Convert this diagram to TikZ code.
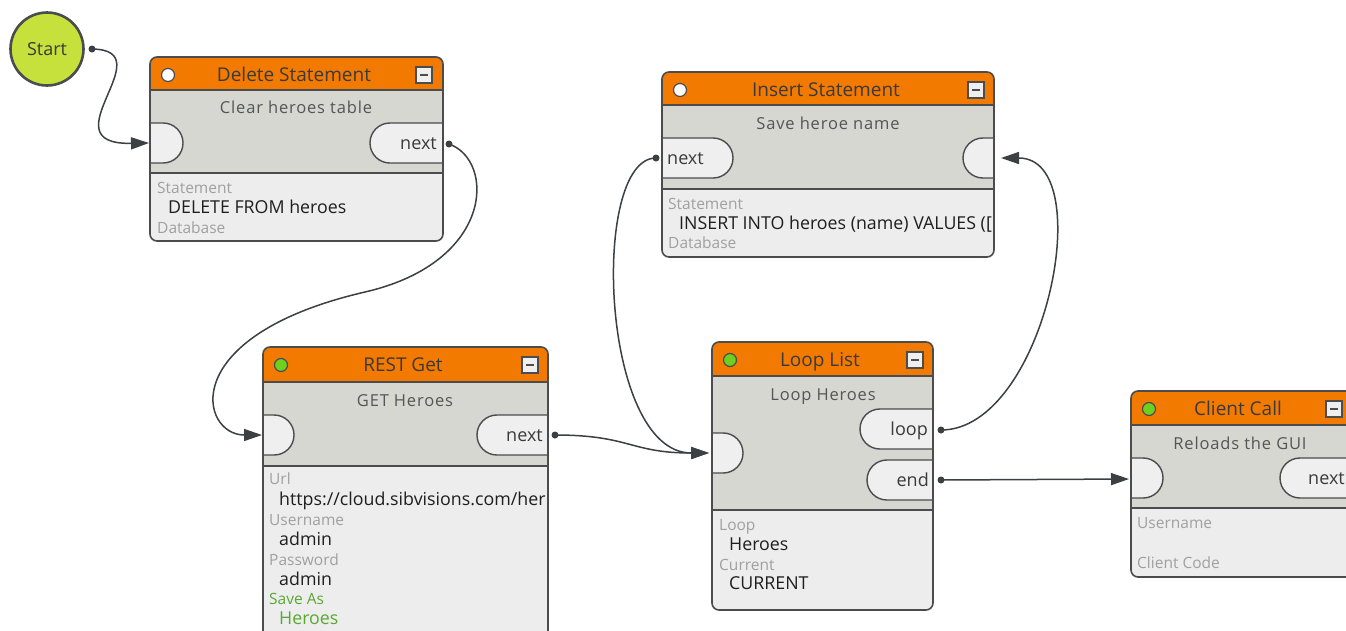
\documentclass[tikz,border=0pt]{standalone}
\usepackage{fontspec}
\setmainfont{Open Sans}
\usetikzlibrary{arrows.meta}
\definecolor{cHdr}{HTML}{F27A00}
\definecolor{cMid}{HTML}{D5D7D0}
\definecolor{cLow}{HTML}{EDEDED}
\definecolor{cPort}{HTML}{EFEFEF}
\definecolor{cFrame}{HTML}{4A4C4E}
\definecolor{cWire}{HTML}{3B4044}
\definecolor{cTtl}{HTML}{3A3A3A}
\definecolor{cSub}{HTML}{555555}
\definecolor{cVal}{HTML}{1E1E1E}
\definecolor{cLbl}{HTML}{A0A0A0}
\definecolor{cSave}{HTML}{5AA832}
\definecolor{cStart}{HTML}{C6E03C}
\definecolor{cOk}{HTML}{6FD11E}
\tikzset{
  x=1pt, y=-1pt,
  conn/.style={draw=cWire, line width=1.5pt, -{Triangle[length=18pt,width=12pt]}},
  portst/.style={fill=cPort, draw=cFrame, line width=1.4pt, rounded corners=19.9pt},
  ttl/.style={font=\fontsize{19}{21}\selectfont, text=cTtl, inner sep=0pt, anchor=center, text height=13.5pt, text depth=0pt},
  subt/.style={font=\fontsize{16.5}{18}\selectfont\addfontfeature{LetterSpace=5}, text=cSub, inner sep=0pt, anchor=center, text height=12pt, text depth=0pt},
  lbl/.style={font=\fontsize{15.5}{17}\selectfont, text=cLbl, inner sep=0pt, anchor=west, text height=11pt, text depth=0pt},
  val/.style={font=\fontsize{17.8}{19}\selectfont, text=cVal, inner sep=0pt, anchor=west, text height=12.5pt, text depth=0pt},
  porttxt/.style={font=\fontsize{18}{20}\selectfont, text=cTtl, inner sep=0pt, text height=9.5pt, text depth=0pt},
  dotst/.style={fill=cWire},
}
% background of a flow node: x1 y1 x2 y2 ytitle ysep ; #7 = port drawing code
\newcommand\flowbg[7]{%
  \begin{scope}
    \clip[rounded corners=7pt] (#1,#2) rectangle (#3,#4);
    \fill[cLow] (#1,#2) rectangle (#3,#4);
    \fill[cHdr] (#1,#2) rectangle (#3,#5);
    \fill[cMid] (#1,#5) rectangle (#3,#6);
    #7
    \draw[cFrame,line width=1.3pt] (#1,#5) -- (#3,#5);
    \draw[cFrame,line width=1.8pt] (#1,#6) -- (#3,#6);
  \end{scope}
  \draw[cFrame,line width=1.6pt,rounded corners=7pt] (#1,#2) rectangle (#3,#4);}
\newcommand\hdrdot[3]{\draw[cFrame,fill=#3,line width=1.2pt] (#1,#2) circle (6.5pt);}
\newcommand\minusbtn[2]{%
  \draw[cFrame,fill=cPort,line width=1.3pt] (#1-8,#2-8) rectangle (#1+8,#2+8);
  \draw[cFrame,line width=1.4pt] (#1-4,#2) -- (#1+4,#2);}
\begin{document}
\begin{tikzpicture}
\useasboundingbox (0,0) rectangle (1346,630);
\clip (0,0) rectangle (1346,630);
\fill[white] (0,0) rectangle (1346,630);

% ---------- Start
\node[circle, fill=cStart, draw=cFrame, line width=2.6pt, minimum size=73pt, inner sep=0pt,
      font=\fontsize{18}{20}\selectfont, text=cTtl] (start) at (47,49) {Start};

% ---------- Delete Statement
\flowbg{150}{57}{443}{241}{90}{173}{%
  \draw[portst] (120,123) rectangle (183,163);
  \draw[portst] (370,123) rectangle (480,163);}
\hdrdot{168}{75}{white}
\minusbtn{424}{75}
\node[ttl] (del-title) at (294,75) {Delete Statement};
\node[subt] (del-sub) at (296,107) {Clear heroes table};
\node[porttxt, anchor=east] (del-next) at (437,144.5) {next};
\node[lbl] (del-l1) at (157,188) {Statement};
\node[val] (del-v1) at (168,207) {DELETE FROM heroes};
\node[lbl] (del-l2) at (157,228) {Database};

% ---------- Insert Statement
\flowbg{662}{72}{994}{257}{105}{189}{%
  \draw[portst] (630,138) rectangle (733,178);
  \draw[portst] (963,138) rectangle (1030,178);}
\hdrdot{680}{90}{white}
\minusbtn{976}{90}
\node[ttl] (ins-title) at (826,90) {Insert Statement};
\node[subt] (ins-sub) at (828,123) {Save heroe name};
\node[porttxt, anchor=west] (ins-next) at (667,159.5) {next};
\node[lbl] (ins-l1) at (668,204) {Statement};
\begin{scope}
  \clip (662,150) rectangle (993,260);
  \node[val] (ins-v1) at (679,223) {INSERT INTO heroes (name) VALUES ([};
\end{scope}
\node[lbl] (ins-l2) at (668,243) {Database};

% ---------- REST Get
\flowbg{263}{347}{548}{660}{382}{466}{%
  \draw[portst] (230,415) rectangle (294,455);
  \draw[portst] (477,415) rectangle (580,455);}
\hdrdot{281}{365}{cOk}
\minusbtn{530}{365}
\node[ttl] (rest-title) at (403,365) {REST Get};
\node[subt] (rest-sub) at (405,400) {GET Heroes};
\node[porttxt, anchor=east] (rest-next) at (543,436.5) {next};
\node[lbl] (rest-l1) at (269,479) {Url};
\begin{scope}
  \clip (263,460) rectangle (547,520);
  \node[val] (rest-v1) at (279,499) {https://cloud.sibvisions.com/her};
\end{scope}
\node[lbl] (rest-l2) at (269,520) {Username};
\node[val] (rest-v2) at (279,539) {admin};
\node[lbl] (rest-l3) at (269,560) {Password};
\node[val] (rest-v3) at (279,579) {admin};
\node[lbl, text=cSave] (rest-l4) at (269,599) {Save As};
\node[val, text=cSave] (rest-v4) at (279,618) {Heroes};

% ---------- Loop List
\flowbg{712}{342}{933}{610}{376}{510}{%
  \draw[portst] (680,433) rectangle (743,473);
  \draw[portst] (860,409) rectangle (970,449);
  \draw[portst] (867,460) rectangle (970,500);}
\hdrdot{730}{360}{cOk}
\minusbtn{915}{360}
\node[ttl] (loop-title) at (820,360) {Loop List};
\node[subt] (loop-sub) at (823,394) {Loop Heroes};
\node[porttxt, anchor=east] (loop-loop) at (928,430.5) {loop};
\node[porttxt, anchor=east] (loop-end) at (929,481.5) {end};
\node[lbl] (loop-l1) at (719,525) {Loop};
\node[val] (loop-v1) at (729,544) {Heroes};
\node[lbl] (loop-l2) at (719,565) {Current};
\node[val] (loop-v2) at (729,583) {CURRENT};

% ---------- Client Call
\flowbg{1131}{391}{1353}{577}{425}{508}{%
  \draw[portst] (1100,458) rectangle (1163,498);
  \draw[portst] (1280,458) rectangle (1390,498);}
\hdrdot{1149}{409}{cOk}
\minusbtn{1334}{409}
\node[ttl] (cl-title) at (1238,409) {Client Call};
\node[subt] (cl-sub) at (1240,443) {Reloads the GUI};
\node[porttxt, anchor=west] (cl-next) at (1308,479.5) {next};
\node[lbl] (cl-l1) at (1137,523) {Username};
\node[lbl] (cl-l2) at (1137,563) {Client Code};

% ---------- connector end points
\coordinate (start-out) at (92,49);
\coordinate (del-in) at (149,143);
\coordinate (del-out) at (449,144);
\coordinate (rest-in) at (262,435);
\coordinate (rest-out) at (555,435);
\coordinate (loop-in) at (709,453);
\coordinate (loop-out) at (941,430);
\coordinate (end-out) at (941,480);
\coordinate (ins-out) at (656,158);
\coordinate (ins-in) at (1001,158);
\coordinate (cl-in) at (1129,479);
\coordinate (del-rest-mid) at (365,292);

\draw[conn] (start-out) .. controls (165,50) and (45,145) .. (del-in);
\draw[conn] (del-out) .. controls (495,160) and (495,262) .. (del-rest-mid)
  .. controls (175,336) and (200,435) .. (rest-in);
\draw[conn] (rest-out) .. controls (630,435) and (630,453) .. (loop-in);
\draw[conn] (ins-out) .. controls (590,158) and (600,453) .. (loop-in);
\draw[conn] (loop-out) .. controls (1045,430) and (1100,158) .. (ins-in);
\draw[conn] (end-out) -- (cl-in);

\foreach \p in {start-out,del-out,rest-out,ins-out,loop-out,end-out}
  \fill[dotst] (\p) circle (3.5pt);
\end{tikzpicture}
\end{document}
